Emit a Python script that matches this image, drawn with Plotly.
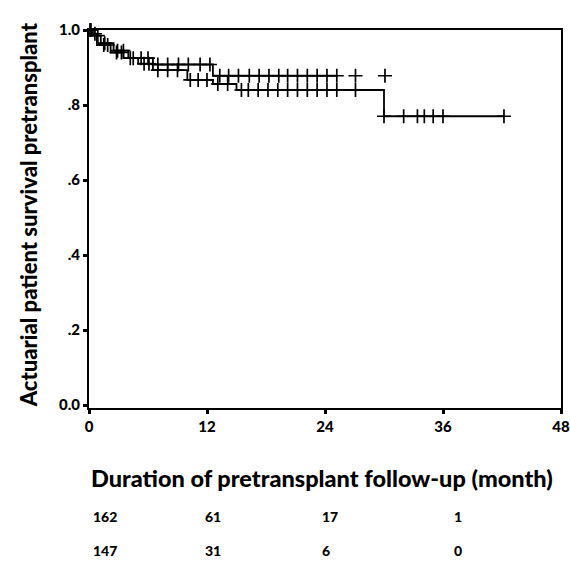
import numpy as np
import plotly.graph_objects as go

# Group A (upper curve)
a_event_t = [0, 0.4, 1.2, 2.5, 4.0, 6.5, 12.6]
a_surv = [1.0, 0.985, 0.965, 0.945, 0.925, 0.908, 0.878]
a_line_end = 25.3
a_censor = [0.2, 0.9, 1.6, 2.9, 3.5, 4.5, 5.3, 6.0, 7.0, 8.0, 9.1, 10.1, 11.3, 12.3,
            13.3, 14.2, 15.2, 16.3, 17.3, 18.3, 19.3, 20.2, 21.2, 22.2, 23.2, 24.2,
            25.2, 27.1, 30.1]

# Group B (lower curve)
b_event_t = [0, 0.3, 0.8, 2.2, 3.5, 5.0, 6.5, 10.0, 12.6, 15.0, 30.0]
b_surv = [1.0, 0.99, 0.96, 0.94, 0.925, 0.91, 0.893, 0.867, 0.856, 0.84, 0.77]
b_line_end = 42.2
b_censor = [0.1, 0.6, 1.5, 1.9, 2.8, 3.3, 4.2, 5.6, 6.1, 7.0, 8.0, 9.0, 10.3, 11.1,
            12.0, 13.1, 14.1, 15.5, 16.2, 17.2, 18.2, 19.2, 20.2, 21.2, 22.2, 23.2,
            24.2, 25.2, 27.1, 30.0, 32.0, 33.4, 34.1, 35.0, 36.0, 42.2]

x_ticks = [0, 12, 24, 36, 48]
y_ticks = [0.0, 0.2, 0.4, 0.6, 0.8, 1.0]
y_ticklabels = ["0.0", ".2", ".4", ".6", ".8", "1.0"]

risk_times = [0, 12, 24, 36]
at_risk_1 = [162, 61, 17, 1]
at_risk_2 = [147, 31, 6, 0]

FONT = "Lato"
W = 900


def step_xy(ev_t, surv, end):
    xs = list(ev_t) + [end]
    ys = list(surv) + [surv[-1]]
    return xs, ys


def surv_at(ev_t, surv, times):
    idx = np.searchsorted(np.array(ev_t), np.array(times), side="right") - 1
    return [surv[i] for i in idx]


fig = go.Figure()
for ev_t, surv, end, cens in [
    (a_event_t, a_surv, a_line_end, a_censor),
    (b_event_t, b_surv, b_line_end, b_censor),
]:
    xs, ys = step_xy(ev_t, surv, end)
    fig.add_trace(go.Scatter(x=xs, y=ys, mode="lines", line=dict(color="black", width=1.8, shape="hv"),
                             showlegend=False, hoverinfo="skip", cliponaxis=False))
    fig.add_trace(go.Scatter(x=cens, y=surv_at(ev_t, surv, cens), mode="markers",
                             marker=dict(symbol="cross-thin", size=10, line=dict(color="black", width=1.7)),
                             showlegend=False, cliponaxis=False))

fig.update_xaxes(range=[0, 48], tickvals=x_ticks, ticktext=[str(v) for v in x_ticks],
                 showline=True, linecolor="black", linewidth=2, mirror=True,
                 ticks="outside", ticklen=4, tickwidth=3, tickcolor="black",
                 showgrid=False, zeroline=False, automargin=False, ticklabeloverflow="allow",
                 tickfont=dict(family=FONT, size=15, color="black", weight=W))
fig.update_yaxes(range=[-0.008, 1.0], tickvals=y_ticks, ticktext=y_ticklabels,
                 showline=True, linecolor="black", linewidth=2, mirror=True,
                 ticks="outside", ticklen=4, tickwidth=3, tickcolor="black",
                 showgrid=False, zeroline=False, automargin=False, ticklabeloverflow="allow",
                 tickfont=dict(family=FONT, size=15, color="black", weight=W))

annotations = [
    dict(text="Duration of pretransplant follow-up (month)", xref="paper", yref="paper",
         x=0.494, y=-0.185, xanchor="center", yanchor="middle", showarrow=False,
         font=dict(family=FONT, size=23.5, color="black", weight=W)),
    dict(text="Actuarial patient survival pretransplant", xref="paper", yref="paper",
         x=-0.129, y=0.51, xanchor="center", yanchor="middle", textangle=-90, showarrow=False,
         font=dict(family=FONT, size=22, color="black", weight=W)),
]
offsets = [0.2, -0.4, -0.5, 0.9]
for t, off, n1, n2 in zip(risk_times, offsets, at_risk_1, at_risk_2):
    for n, yy in [(n1, -0.288), (n2, -0.376)]:
        annotations.append(dict(text=str(n), xref="x", yref="paper", x=t + off, y=yy,
                                xanchor="left", yanchor="middle", showarrow=False,
                                font=dict(family=FONT, size=14, color="black", weight=W)))

fig.update_layout(width=570, height=561, margin=dict(l=89, r=9, t=30, b=153, autoexpand=False),
                  plot_bgcolor="white", paper_bgcolor="white", annotations=annotations)

# remove the default page margin so the 570x561 figure fills the window exactly
fig.write_html("out.html", config={"displayModeBar": False},
               post_script="document.body.style.margin='0';document.body.style.overflow='hidden';")
